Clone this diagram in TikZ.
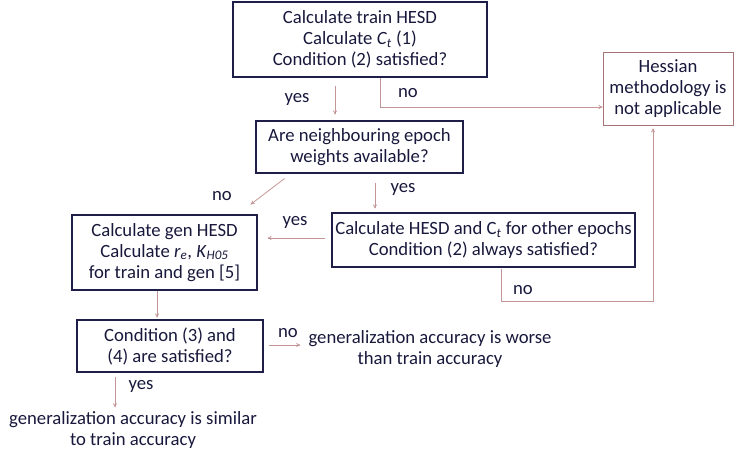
\documentclass[tikz,border=0pt]{standalone}
\usepackage{fontspec}
\setmainfont{Carlito}
\usetikzlibrary{arrows.meta,calc}
\definecolor{txt}{RGB}{24,24,60}
\definecolor{boxc}{RGB}{30,30,72}
\definecolor{arrc}{RGB}{196,150,150}
\definecolor{hesc}{RGB}{165,115,115}
\begin{document}
\begin{tikzpicture}[x=1pt,y=-1pt,
  every node/.style={text=txt,font=\fontsize{18.7}{21}\selectfont,align=center,inner sep=0pt},
  box/.style={draw=boxc,line width=1.1pt},
  hbox/.style={draw=hesc,line width=0.8pt},
  conn/.style={draw=arrc,line width=0.8pt,-{To[length=4pt,width=4pt]}}]
\useasboundingbox (0,0) rectangle (735,453);
\node[box,minimum width=254,minimum height=75] (b1) at (360,39.5)
  {Calculate train HESD\\Calculate \textit{C}\textsubscript{\textit{t}} (1)\\Condition (2) satisfied?};
\node[hbox,minimum width=130,minimum height=73] (h) at (668,88.5)
  {Hessian\\methodology is\\not applicable};
\node[box,minimum width=207,minimum height=52] (b2) at (359.5,147)
  {Are neighbouring epoch\\weights available?};
\node[box,minimum width=185,minimum height=75] (b3) at (164.5,252.5)
  {Calculate gen HESD\\Calculate \textit{r}\textsubscript{\textit{e}}, \textit{K}\textsubscript{\textit{H05}}\\for train and gen [5]};
\node[box,minimum width=303,minimum height=54] (b4) at (483.5,240)
  {Calculate HESD and C\textsubscript{\textit{t}} for other epochs\\Condition (2) always satisfied?};
\node[box,minimum width=186,minimum height=52] (b5) at (170,346)
  {Condition (3) and\\(4) are satisfied?};
\node (worse) at (430,349) {generalization accuracy is worse\\than train accuracy};
\node (sim) at (133,430) {generalization accuracy is similar\\to train accuracy};
% connectors
\draw[conn] ($(b1.south)+(-25,8)$) -- ($(b2.north)+(-24.5,-6)$);
\node at (297,99) {yes};
\draw[conn] ($(b1.south)+(20,0)$) |- (h.west |- 0,107);
\node at (408,93) {no};
\draw[conn] ($(b2.south)+(-75,5)$) -- ($(b3.north east)+(-7,-10)$);
\node at (222,196) {no};
\draw[conn] ($(b2.south)+(15.5,9)$) -- ($(b4.north)+(-108.5,-4)$);
\node at (403,189) {yes};
\draw[conn] ($(b4.west)+(-6,-2)$) -- ($(b3.east |- 0,238)+(10,0)$);
\node at (295,222) {yes};
\draw[conn] ($(b4.south)+(17.5,1)$) |- (653,301) -- ($(h.south)+(-15,3)$);
\node at (523,290) {no};
\draw[conn] (b3.south -| 157,0) -- ($(b5.north -| 157,0)+(0,-2)$);
\draw[conn] ($(b5.east)+(5,-1)$) -- ($(worse.west)+(-8,-4)$);
\node at (288,333) {no};
\draw[conn] ($(b5.south -| 115,0)+(0,4)$) -- ($(sim.north -| 115,0)+(0,-4)$);
\node at (141,386) {yes};
\end{tikzpicture}
\end{document}
